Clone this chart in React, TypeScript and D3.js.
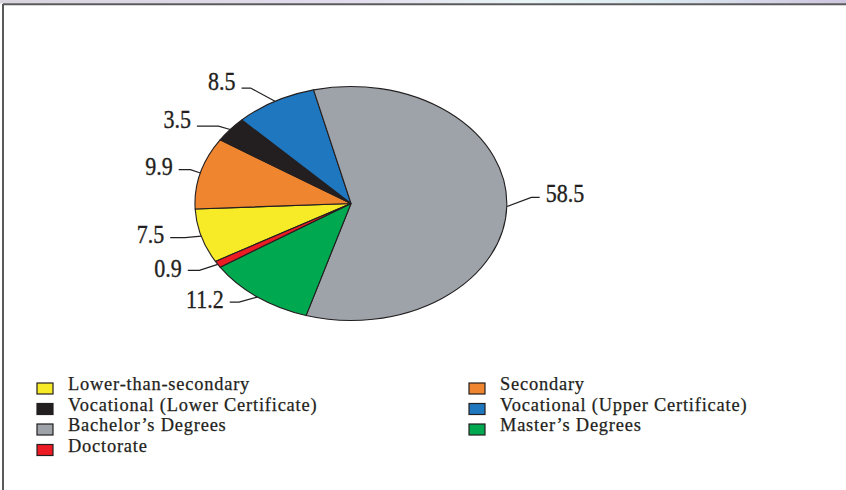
import React from "react";
import * as d3 from "d3";

// Legend order (row-major, two columns)
const categories = [
  "Lower-than-secondary",
  "Secondary",
  "Vocational (Lower Certificate)",
  "Vocational (Upper Certificate)",
  "Bachelor’s Degrees",
  "Master’s Degrees",
  "Doctorate",
];
const values = [7.5, 9.9, 3.5, 8.5, 58.5, 11.2, 0.9];
const valueLabels = ["7.5", "9.9", "3.5", "8.5", "58.5", "11.2", "0.9"];
const colors = ["#f7ea26", "#f0852f", "#231f20", "#1f77c0", "#9da3a8", "#00a84f", "#ed1c24"];

// leader layout: [elbow dx, elbow dy, horizontal length, text baseline dy]
const leaderLayout: [number, number, number, number][] = [
  [-16, 1.5, 15, 5.7],
  [-10, -3.3, 11.7, 5],
  [-11.7, -3.3, 21.6, 2],
  [-24.4, -13.3, 9, 1.6],
  [24.4, -9, 8.3, 4.7],
  [-18.3, 5, 9.3, 5.7],
  [-18.3, 6, 11.7, 6.6],
];

const W = 846;
const H = 490;
const cx = 351;
const cy = 203.5;
const rx = 156;
const ry = 117;
const startDeg = 240.3;
const ink = "#231f20";

export default function App() {
  const toRad = (d: number) => (d * Math.PI) / 180;
  const pie = d3
    .pie<number>()
    .sort(null)
    .value((d) => d)
    .startAngle(toRad(startDeg))
    .endAngle(toRad(startDeg + 360));
  const arcs = pie(values);
  const arcGen = d3.arc<d3.PieArcDatum<number>>().innerRadius(0).outerRadius(1);

  const rowY = d3.scaleLinear().domain([0, 1]).range([383, 403.5]);
  const colX = [37, 469];

  return (
    <svg
      width={W}
      height={H}
      style={{ position: "absolute", left: 0, top: 0, background: "#fff" }}
      fontFamily="'Liberation Serif', 'Times New Roman', serif"
    >
      <defs>
        <linearGradient id="topband" x1="0" x2="1" y1="0" y2="0">
          <stop offset="0" stopColor="#d8d5df" />
          <stop offset="0.4" stopColor="#e2dbec" />
          <stop offset="0.62" stopColor="#e8f4f6" />
          <stop offset="0.78" stopColor="#dbe9f0" />
          <stop offset="1" stopColor="#cfc5df" />
        </linearGradient>
      </defs>
      <rect x={0} y={0} width={W} height={H} fill="#fff" />
      <rect x={0} y={0} width={W} height={3.5} fill="url(#topband)" />
      <line x1={3} y1={4.2} x2={W} y2={4.2} stroke="#5a5a5c" strokeWidth={2} />
      <line x1={3} y1={4} x2={3} y2={H} stroke="#5a5a5c" strokeWidth={2} />

      <g transform={`translate(${cx},${cy}) scale(${rx},${ry})`}>
        {arcs.map((a, i) => (
          <path
            key={i}
            d={arcGen(a) || ""}
            fill={colors[i]}
            stroke={ink}
            strokeWidth={1.1}
            strokeLinejoin="round"
            vectorEffect="non-scaling-stroke"
          />
        ))}
      </g>

      {arcs.map((a, i) => {
        const mid = (a.startAngle + a.endAngle) / 2;
        const ex = cx + rx * Math.sin(mid);
        const ey = cy - ry * Math.cos(mid);
        const [dx, dy, len, tdy] = leaderLayout[i];
        const bx = ex + dx;
        const by = ey + dy;
        const right = Math.sin(mid) > 0;
        const hx = right ? bx + len : bx - len;
        const tx = right ? hx + 6 : hx - 6;
        return (
          <g key={i}>
            <polyline
              points={`${ex},${ey} ${bx},${by} ${hx},${by}`}
              fill="none"
              stroke={ink}
              strokeWidth={1.2}
            />
            <text
              transform={`translate(${tx},${by + tdy}) scale(0.88,1)`}
              textAnchor={right ? "start" : "end"}
              fontSize={25}
              fill={ink}
              stroke={ink}
              strokeWidth={0.35}
            >
              {valueLabels[i]}
            </text>
          </g>
        );
      })}

      {categories.map((c, i) => {
        const col = i % 2;
        const row = Math.floor(i / 2);
        const y = rowY(row);
        const x = colX[col];
        return (
          <g key={c}>
            <rect x={x} y={y} width={16} height={11} fill={colors[i]} stroke={ink} strokeWidth={1.2} />
            <text
              x={x + 31}
              y={y + 7}
              fontSize={18.4}
              letterSpacing={0.8}
              fill={ink}
              stroke={ink}
              strokeWidth={0.25}
            >
              {c}
            </text>
          </g>
        );
      })}
    </svg>
  );
}
